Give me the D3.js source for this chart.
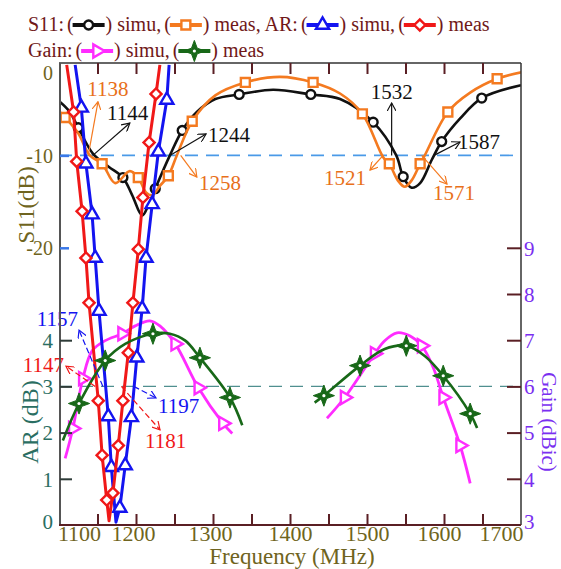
<!DOCTYPE html>
<html>
<head>
<meta charset="utf-8">
<script src="https://cdn.jsdelivr.net/npm/d3@7"></script>
<style>
body { margin: 0; background: #fff; }
svg { display: block; }
</style>
</head>
<body>
<svg width="561" height="569"></svg>
<script>
// axis ticks
const freqTicks = [1150, 1200, 1250, 1300, 1350, 1400, 1450, 1500, 1550, 1600, 1650];
const freqLabels = [1100, 1200, 1300, 1400, 1500, 1600, 1700];
const s11Ticks = [0, -10, -20];
const arTicks = [0, 1, 2, 3, 4];
const gainTicks = [3, 4, 5, 6, 7, 8, 9];

// S11 simulated (black, circles)
const s11Simu = [[1101,-4.2],[1114,-5.3],[1125,-7.0],[1144,-9.8],[1164,-11.2],[1183,-12.4],[1195,-14.3],[1208,-16.5],[1216,-15.4],[1225,-13.6],[1244,-10],[1260,-7.3],[1279,-5.3],[1303,-3.9],[1334,-3.4],[1378,-2.9],[1427,-3.4],[1465,-3.9],[1508,-6.4],[1538,-10],[1547,-12.3],[1558,-13.5],[1569,-13.0],[1584,-10.5],[1597,-8.5],[1621,-6.0],[1649,-3.8],[1700,-2.4]];
const s11SimuMarks = [1125, 1183, 1225, 1260, 1334, 1427, 1508, 1547, 1597, 1649];

// S11 measured (orange, squares)
const s11Meas = [[1101,-5.3],[1108,-5.9],[1125,-7.6],[1140,-10],[1156,-10.9],[1173,-13.0],[1192,-11.7],[1203,-12.4],[1213,-14.0],[1221,-14.3],[1231,-13.3],[1242,-12.2],[1253,-10],[1273,-6.3],[1303,-3.5],[1342,-2.1],[1387,-1.5],[1430,-2.1],[1465,-3.3],[1494,-5.5],[1521,-10.2],[1529,-10.9],[1540,-12.7],[1549,-13.4],[1558,-12.7],[1569,-10.9],[1575,-10],[1605,-5.3],[1634,-3.2],[1669,-1.7],[1701,-1.0]];
const s11MeasMarks = [1108, 1156, 1203, 1242, 1273, 1342, 1430, 1494, 1529, 1569, 1605, 1669];

// AR simulated (blue, triangles)
const arSimu = [[1121,9.96],[1129,9.03],[1135,7.82],[1143,6.72],[1147,5.78],[1152,4.63],[1164,2.35],[1168,1.25],[1174,0.06],[1179,0.37],[1186,1.29],[1194,2.33],[1201,3.62],[1208,4.68],[1213,5.78],[1221,6.94],[1229,8.08],[1240,9.2],[1243,9.96]];
const arSimuMarks = [1129, 1135, 1143, 1147, 1152, 1164, 1168, 1179, 1186, 1194, 1201, 1208, 1213, 1221, 1229, 1240];

// AR measured (red, diamonds)
const arMeas = [[1110,9.96],[1119,8.94],[1123,7.87],[1130,6.79],[1135,5.78],[1139,4.81],[1151,2.69],[1156,1.51],[1162,0.54],[1165,0.09],[1170,0.69],[1177,1.72],[1183,2.69],[1190,3.73],[1196,4.81],[1203,5.97],[1209,7.09],[1217,8.28],[1226,9.33],[1231,9.96]];
const arMeasMarks = [1119, 1123, 1130, 1135, 1139, 1151, 1156, 1162, 1170, 1177, 1183, 1190, 1196, 1203, 1209, 1217, 1226];

// Gain simulated (magenta, right triangles), two bands
const gainSimuLow = [[1108,4.44],[1118,5.09],[1131,6.17],[1143,6.77],[1160,6.99],[1182,7.14],[1199,7.31],[1218,7.42],[1231,7.31],[1251,6.92],[1281,5.97],[1313,5.2],[1325,4.98]];
const gainSimuHigh = [[1448,5.31],[1471,5.76],[1510,6.71],[1523,6.99],[1539,7.16],[1556,7.09],[1571,6.88],[1586,6.41],[1599,5.76],[1621,4.72],[1634,3.9]];
const gainSimuMarks = [1118, 1131, 1182, 1251, 1281, 1313, 1471, 1510, 1571, 1599, 1621];

// Gain measured (green, stars), two bands
const gainMeasLow = [[1105,4.83],[1126,5.63],[1160,6.56],[1186,6.92],[1222,7.14],[1244,7.14],[1264,6.99],[1283,6.62],[1322,5.76],[1338,5.16]];
const gainMeasHigh = [[1432,5.65],[1444,5.8],[1491,6.45],[1523,6.81],[1551,6.88],[1575,6.66],[1599,6.23],[1634,5.41],[1643,5.1]];
const gainMeasMarks = [1126, 1160, 1222, 1283, 1322, 1444, 1491, 1551, 1599, 1634];

// annotations: crossing freq, arrow tip (f, v), label (f, v)
const s11Notes = [
  ["1138", "orange", 1138, 1150.6, -4.2, 1163.6, -3.57, "middle"],
  ["1144", "black", 1144, 1192, -6.5, 1162.3, -6.17, "start"],
  ["1244", "black", 1244, 1291, -7.68, 1293.5, -8.55, "start"],
  ["1258", "orange", 1258, 1279, -12.34, 1281.8, -13.74, "start"],
  ["1532", "black", 1532, 1532, -4.33, 1532, -3.9, "middle"],
  ["1587", "black", 1587, 1620.8, -8.55, 1618.2, -9.31, "start"],
  ["1521", "orange", 1521, 1503.9, -11.58, 1498.7, -13.2, "end"],
  ["1571", "orange", 1571, 1603.9, -13.1, 1585.7, -14.83, "start"]
];
const arNotes = [
  ["1157", "blue", 1157, 1126, 4.22, 1124.7, 4.31, "end"],
  ["1147", "red", 1147, 1109, 3.44, 1106.5, 3.31, "end"],
  ["1197", "blue", 1197, 1226, 2.75, 1228.6, 2.42, "start"],
  ["1181", "red", 1181, 1231.2, 2.06, 1211.7, 1.67, "start"]
];

const colors = {
  black: "#111111", orange: "#f47a20", blue: "#1414f0", red: "#f01818",
  magenta: "#ff2cff", green: "#186818"
};
const maroon = "#5a1f24", olive = "#6f6420", teal = "#2a6e62", purple = "#7a2ff0", legendInk = "#701818";
const serif = "Liberation Serif, DejaVu Serif, serif";

const svg = d3.select("svg").attr("font-family", serif);
const pLeft = 59, pRight = 521, pTop = 63, pBottom = 525;

const x = d3.scaleLinear().domain([1100, 1700]).range([pLeft, pRight]);
const yS11 = d3.scaleLinear().domain([-50, 0]).range([pBottom, pTop]);
const yAR = d3.scaleLinear().domain([0, 10]).range([pBottom, pTop]);
const yGain = d3.scaleLinear().domain([3, 13]).range([pBottom, pTop]);

svg.append("clipPath").attr("id", "plot")
  .append("rect").attr("x", pLeft).attr("y", pTop).attr("width", pRight - pLeft).attr("height", pBottom - pTop);

// arrowheads
const defs = svg.append("defs");
Object.keys(colors).forEach(k => {
  defs.append("marker").attr("id", "arr-" + k)
    .attr("viewBox", "0 0 10 10").attr("refX", 9).attr("refY", 5)
    .attr("markerWidth", 9).attr("markerHeight", 9).attr("markerUnits", "userSpaceOnUse")
    .attr("orient", "auto")
    .append("path").attr("d", "M0,0 L9,5 L0,10")
    .attr("fill", "none").attr("stroke", colors[k]).attr("stroke-width", 1.3);
});

// 4 point star
const star4 = {
  draw(ctx, size) {
    const r = Math.sqrt(size) * 0.75, ri = r * 0.38;
    for (let i = 0; i < 8; i++) {
      const a = i * Math.PI / 4 - Math.PI / 2;
      const rr = i % 2 ? ri : r;
      if (i == 0) ctx.moveTo(rr * Math.cos(a), rr * Math.sin(a));
      else ctx.lineTo(rr * Math.cos(a), rr * Math.sin(a));
    }
    ctx.closePath();
  }
};

const shapes = {
  circle: { type: d3.symbolCircle, size: 62, rot: 0 },
  square: { type: d3.symbolSquare, size: 80, rot: 0 },
  tri: { type: d3.symbolTriangle, size: 75, rot: 0 },
  diamond: { type: d3.symbolSquare, size: 62, rot: 45 },
  rtri: { type: d3.symbolTriangle, size: 75, rot: 90 },
  star: { type: star4, size: 200, rot: 0 }
};

function drawMarker(g, cx, cy, shape, color) {
  const s = shapes[shape];
  const m = g.append("g").attr("transform", `translate(${cx},${cy}) rotate(${s.rot})`);
  if (shape == "star") {
    m.append("path").attr("d", d3.symbol(s.type, s.size)()).attr("fill", color).attr("stroke", color).attr("stroke-width", 1);
    m.append("circle").attr("r", 1.6).attr("fill", "#fff");
  } else {
    m.append("path").attr("d", d3.symbol(s.type, s.size)())
      .attr("fill", "#fff").attr("stroke", color).attr("stroke-width", 2.4);
  }
}

const plot = svg.append("g").attr("clip-path", "url(#plot)");

// reference dashed lines
plot.append("line").attr("x1", pLeft).attr("x2", pRight)
  .attr("y1", yS11(-10)).attr("y2", yS11(-10))
  .attr("stroke", "#4a9ae8").attr("stroke-width", 1.6).attr("stroke-dasharray", "13,8");
plot.append("line").attr("x1", pLeft).attr("x2", pRight)
  .attr("y1", yAR(3)).attr("y2", yAR(3))
  .attr("stroke", "#4f8f8f").attr("stroke-width", 1.4).attr("stroke-dasharray", "13,8");

function series(data, marks, yScale, color, shape, width, curve) {
  const line = d3.line().x(d => x(d[0])).y(d => yScale(d[1])).curve(curve);
  plot.append("path").datum(data).attr("d", line)
    .attr("fill", "none").attr("stroke", color).attr("stroke-width", width)
    .attr("stroke-linejoin", "round");
  data.filter(d => marks.includes(d[0])).forEach(d => {
    drawMarker(plot, x(d[0]), yScale(d[1]), shape, color);
  });
}

const smooth = d3.curveCatmullRom.alpha(0.5);
series(s11Simu, s11SimuMarks, yS11, colors.black, "circle", 2.6, smooth);
series(s11Meas, s11MeasMarks, yS11, colors.orange, "square", 2.6, smooth);
series(gainSimuLow, gainSimuMarks, yGain, colors.magenta, "rtri", 2.8, smooth);
series(gainSimuHigh, gainSimuMarks, yGain, colors.magenta, "rtri", 2.8, smooth);
series(arSimu, arSimuMarks, yAR, colors.blue, "tri", 3, d3.curveLinear);
series(arMeas, arMeasMarks, yAR, colors.red, "diamond", 3, d3.curveLinear);
series(gainMeasLow, gainMeasMarks, yGain, colors.green, "star", 2.6, smooth);
series(gainMeasHigh, gainMeasMarks, yGain, colors.green, "star", 2.6, smooth);

// annotations
const notes = svg.append("g").attr("font-size", 21);
s11Notes.forEach(n => {
  notes.append("line")
    .attr("x1", x(n[2])).attr("y1", yS11(-10))
    .attr("x2", x(n[3])).attr("y2", yS11(n[4]))
    .attr("stroke", colors[n[1]]).attr("stroke-width", 1.2)
    .attr("marker-end", `url(#arr-${n[1]})`);
  notes.append("text").attr("x", x(n[5])).attr("y", yS11(n[6]))
    .attr("text-anchor", n[7]).attr("fill", n[1] == "orange" ? "#e8701a" : "#111").text(n[0]);
});
arNotes.forEach(n => {
  notes.append("line")
    .attr("x1", x(n[2])).attr("y1", yAR(3))
    .attr("x2", x(n[3])).attr("y2", yAR(n[4]))
    .attr("stroke", colors[n[1]]).attr("stroke-width", 1.2).attr("stroke-dasharray", "6,3")
    .attr("marker-end", `url(#arr-${n[1]})`);
  notes.append("text").attr("x", x(n[5])).attr("y", yAR(n[6]))
    .attr("text-anchor", n[7]).attr("fill", colors[n[1]]).text(n[0]);
});

// frame
svg.append("line").attr("x1", pLeft).attr("x2", pRight).attr("y1", pTop).attr("y2", pTop)
  .attr("stroke", "#333").attr("stroke-width", 1.5);
svg.append("line").attr("x1", pRight).attr("x2", pRight).attr("y1", pTop).attr("y2", pBottom)
  .attr("stroke", "#333").attr("stroke-width", 1.5);
svg.append("line").attr("x1", pLeft + 1).attr("x2", pLeft + 1).attr("y1", pTop).attr("y2", pBottom)
  .attr("stroke", "#555").attr("stroke-width", 2);
svg.append("line").attr("x1", pLeft).attr("x2", pRight).attr("y1", pBottom).attr("y2", pBottom)
  .attr("stroke", maroon).attr("stroke-width", 2);

// frequency ticks, bottom and top
const tickLen = 11;
svg.append("g").attr("transform", `translate(0,${pBottom})`)
  .call(d3.axisBottom(x).tickValues(freqTicks).tickSize(-tickLen).tickFormat(""))
  .call(g => g.select(".domain").remove())
  .call(g => g.selectAll("line").attr("stroke", maroon).attr("stroke-width", 2));
svg.append("g").attr("transform", `translate(0,${pTop})`)
  .call(d3.axisTop(x).tickValues(freqTicks).tickSize(-tickLen).tickFormat(""))
  .call(g => g.select(".domain").remove())
  .call(g => g.selectAll("line").attr("stroke", maroon).attr("stroke-width", 2));

const labelShift = { 1100: 20, 1200: -3, 1300: -3, 1600: -5, 1700: -20 };
svg.append("g").attr("transform", `translate(0,${pBottom})`)
  .call(d3.axisBottom(x).tickValues(freqLabels).tickSize(0).tickPadding(0).tickFormat(d => d))
  .attr("font-family", serif)
  .call(g => g.select(".domain").remove())
  .call(g => g.selectAll("text")
    .attr("dy", null).attr("y", 16)
    .attr("dx", d => labelShift[d] || 0)
    .attr("font-size", 22).attr("fill", olive));

svg.append("text").attr("x", 292).attr("y", 564).attr("text-anchor", "middle")
  .attr("font-size", 23).attr("fill", olive).text("Frequency (MHz)");

// left axis: S11 ticks
svg.append("g").attr("transform", `translate(${pLeft + 1},0)`)
  .call(d3.axisLeft(yS11).tickValues(s11Ticks).tickSize(-9).tickPadding(7).tickFormat(d => d))
  .attr("font-family", serif)
  .call(g => g.select(".domain").remove())
  .call(g => g.selectAll("line").attr("stroke", "#3a78e8").attr("stroke-width", 2.5)
    .attr("opacity", d => d == 0 ? 0 : 1))
  .call(g => g.selectAll("text").attr("font-size", 20).attr("fill", olive)
    .attr("dy", d => d == 0 ? "0.8em" : "0.35em"));

// left axis: AR ticks
svg.append("g").attr("transform", `translate(${pLeft + 1},0)`)
  .call(d3.axisLeft(yAR).tickValues(arTicks).tickSize(-12).tickPadding(7).tickFormat(d => d))
  .attr("font-family", serif)
  .call(g => g.select(".domain").remove())
  .call(g => g.selectAll("line").attr("stroke", "#2e3b38").attr("stroke-width", 2)
    .attr("opacity", d => d == 0 ? 0 : 1))
  .call(g => g.selectAll("text").attr("font-size", 21).attr("fill", teal)
    .attr("dy", d => d == 0 ? "0.15em" : "0.35em"));

// right axis: gain ticks
svg.append("g").attr("transform", `translate(${pRight},0)`)
  .call(d3.axisRight(yGain).tickValues(gainTicks).tickSize(-14).tickPadding(3).tickFormat(d => d))
  .attr("font-family", serif)
  .call(g => g.select(".domain").remove())
  .call(g => g.selectAll("line").attr("stroke", maroon).attr("stroke-width", 2)
    .attr("opacity", d => d == 3 ? 0 : 1))
  .call(g => g.selectAll("text").attr("font-size", 21).attr("fill", purple)
    .attr("dy", d => d == 3 ? "0.15em" : "0.35em"));

// axis titles
svg.append("text").attr("transform", "translate(26,205) rotate(-90)")
  .attr("text-anchor", "middle").attr("dominant-baseline", "central")
  .attr("font-size", 23).attr("fill", olive).text("S11(dB)");
svg.append("text").attr("transform", "translate(30,422) rotate(-90)")
  .attr("text-anchor", "middle").attr("dominant-baseline", "central")
  .attr("font-size", 24).attr("fill", teal).text("AR (dB)");
svg.append("text").attr("transform", "translate(549,422) rotate(90)")
  .attr("text-anchor", "middle").attr("dominant-baseline", "central")
  .attr("font-size", 21).attr("fill", purple).text("Gain (dBic)");

// legend
const legend = svg.append("g").attr("font-size", 20).attr("fill", legendInk);
function legendRow(y, items) {
  let cx = 28;
  items.forEach(it => {
    if (typeof it === "string") {
      const t = legend.append("text").attr("x", cx).attr("y", y).text(it);
      cx += t.node().getComputedTextLength() + 3;
    } else {
      const p = legend.append("text").attr("x", cx).attr("y", y).text("(");
      cx += p.node().getComputedTextLength() - 1;
      legend.append("line").attr("x1", cx).attr("x2", cx + 32)
        .attr("y1", y - 6).attr("y2", y - 6)
        .attr("stroke", colors[it[0]]).attr("stroke-width", 3.8);
      drawMarker(legend, cx + 16, y - 6, it[1], colors[it[0]]);
      cx += 33;
      const q = legend.append("text").attr("x", cx).attr("y", y).text(")");
      cx += q.node().getComputedTextLength() + 5;
    }
  });
}
legendRow(31, ["S11:", ["black", "circle"], "simu,", ["orange", "square"], "meas, AR:", ["blue", "tri"], "simu,", ["red", "diamond"], "meas"]);
legendRow(57, ["Gain:", ["magenta", "rtri"], "simu,", ["green", "star"], "meas"]);
</script>
</body>
</html>
